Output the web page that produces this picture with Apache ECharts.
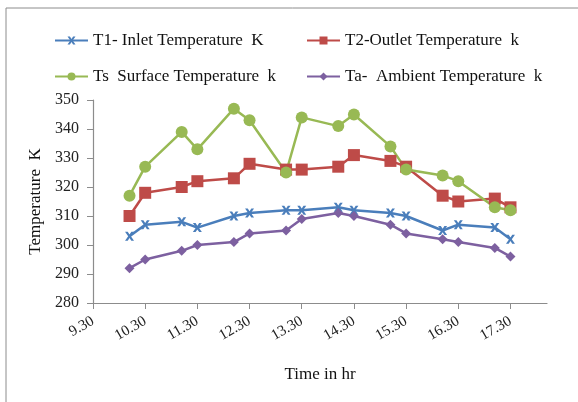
<!DOCTYPE html>
<html>
<head>
<meta charset="utf-8">
<script src="https://cdn.jsdelivr.net/npm/echarts@6/dist/echarts.min.js"></script>
<style>
  html, body { margin: 0; padding: 0; background: #fff; }
  #chart { width: 578px; height: 402px; }
</style>
</head>
<body>
<div id="chart"></div>
<script>
// time of reading (hr, decimal as written in the sheet)
const times = [10.0, 10.3, 11.0, 11.3, 12.0, 12.3, 13.0, 13.3, 14.0, 14.3, 15.0, 15.3, 16.0, 16.3, 17.0, 17.3]
const xTicks = [9.3, 10.3, 11.3, 12.3, 13.3, 14.3, 15.3, 16.3, 17.3]

const inletTemp = [303, 307, 308, 306, 310, 311, 312, 312, 313, 312, 311, 310, 305, 307, 306, 302]
const outletTemp = [310, 318, 320, 322, 323, 328, 326, 326, 327, 331, 329, 327, 317, 315, 316, 313]
const surfaceTemp = [317, 327, 339, 333, 347, 343, 325, 344, 341, 345, 334, 326, 324, 322, 313, 312]
const ambientTemp = [292, 295, 298, 300, 301, 304, 305, 309, 311, 310, 307, 304, 302, 301, 299, 296]

const seriesNames = [
  'T1- Inlet Temperature  K',
  'T2-Outlet Temperature  k',
  'Ts  Surface Temperature  k',
  'Ta-  Ambient Temperature  k'
]
const colors = ['#4A7EBB', '#BE4B48', '#98B954', '#7D60A0']
const font = '"Liberation Serif", "Times New Roman", serif'

const pair = vals => times.map((t, i) => [t, vals[i]])

// excel style "x" marker
const xMarker = 'path://M0,0 L3,0 L5,3 L7,0 L10,0 L6.5,5 L10,10 L7,10 L5,7 L3,10 L0,10 L3.5,5 Z'

function legendAt (name, left, top) {
  return {
    data: [name],
    left: left,
    top: top,
    itemWidth: 33,
    itemHeight: 10,
    itemGap: 0,
    textStyle: { fontFamily: font, fontSize: 17, color: '#111' }
  }
}

const chart = echarts.init(document.getElementById('chart'), null, { renderer: 'canvas' })

chart.setOption({
  animation: false,
  backgroundColor: '#fff',
  color: colors,
  graphic: [{
    type: 'rect',
    shape: { x: 6, y: 8, width: 700, height: 500 },
    style: { fill: 'none', stroke: '#8c8c8c', lineWidth: 1 }
  }],
  legend: [
    legendAt(seriesNames[0], 49, 27),
    legendAt(seriesNames[1], 301, 27),
    legendAt(seriesNames[2], 49, 63),
    legendAt(seriesNames[3], 301, 63)
  ],
  grid: { left: 93, right: 31, top: 100, bottom: 99 },
  xAxis: {
    type: 'value',
    min: 9.3,
    max: 18,
    interval: 1,
    name: 'Time in hr',
    nameLocation: 'middle',
    nameGap: 63,
    nameTextStyle: { fontFamily: font, fontSize: 17, color: '#111' },
    splitLine: { show: false },
    axisLine: { lineStyle: { color: '#8c8c8c', width: 1.2 } },
    axisTick: { length: 6, customValues: xTicks, lineStyle: { color: '#8c8c8c' } },
    axisLabel: {
      customValues: xTicks,
      rotate: 30,
      margin: 17,
      fontFamily: font,
      fontSize: 15,
      color: '#222',
      formatter: v => v.toFixed(2)
    }
  },
  yAxis: {
    type: 'value',
    min: 280,
    max: 350,
    interval: 10,
    name: 'Temperature  K',
    nameLocation: 'middle',
    nameGap: 47,
    nameTextStyle: { fontFamily: font, fontSize: 17, color: '#111' },
    splitLine: { show: false },
    axisLine: { show: true, lineStyle: { color: '#8c8c8c', width: 1.2 } },
    axisTick: { show: true, length: 6, lineStyle: { color: '#8c8c8c' } },
    axisLabel: { margin: 14, fontFamily: font, fontSize: 16, color: '#222' }
  },
  series: [
    {
      name: seriesNames[0],
      type: 'line',
      data: pair(inletTemp),
      symbol: xMarker,
      symbolSize: 9,
      lineStyle: { width: 2.5 }
    },
    {
      name: seriesNames[1],
      type: 'line',
      data: pair(outletTemp),
      symbol: 'rect',
      symbolSize: 12,
      lineStyle: { width: 2.5 }
    },
    {
      name: seriesNames[2],
      type: 'line',
      data: pair(surfaceTemp),
      symbol: 'circle',
      symbolSize: 12,
      lineStyle: { width: 2.5 }
    },
    {
      name: seriesNames[3],
      type: 'line',
      data: pair(ambientTemp),
      symbol: 'diamond',
      symbolSize: 10,
      lineStyle: { width: 2.5 }
    }
  ]
})
</script>
</body>
</html>
